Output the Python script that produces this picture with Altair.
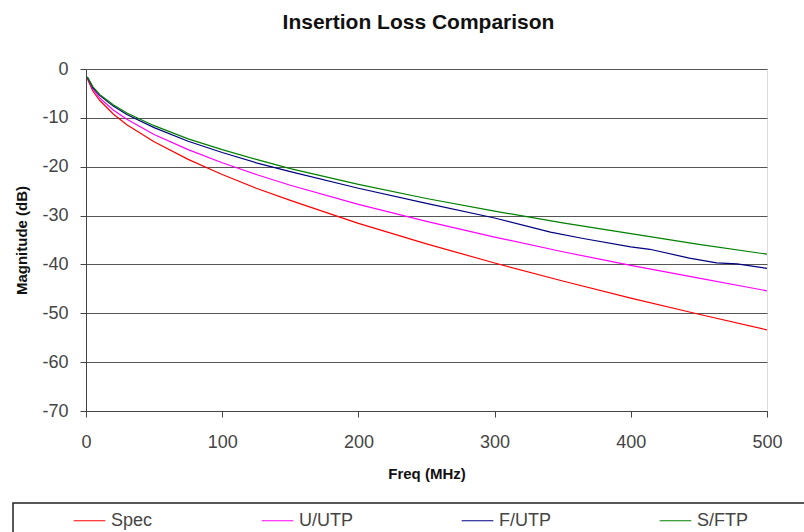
import altair as alt
import pandas as pd

# ---- data ----
spec_freq = [1, 5, 10, 20, 30, 50, 75, 100, 125, 150, 200, 250, 300, 350, 400, 450, 500]
spec_db = [-2.0, -4.5, -6.4, -9.2, -11.4, -14.9, -18.5, -21.6, -24.4, -26.9, -31.6,
           -35.8, -39.7, -43.4, -46.9, -50.2, -53.4]

utp_freq = [1, 5, 10, 20, 30, 50, 75, 100, 125, 150, 200, 250, 300, 350, 400, 450, 500]
utp_db = [-1.8, -4.1, -5.9, -8.4, -10.3, -13.4, -16.5, -19.2, -21.6, -23.8, -27.7,
          -31.2, -34.4, -37.4, -40.2, -42.8, -45.4]

futp_freq = [1, 5, 10, 20, 30, 50, 75, 100, 125, 150, 200, 250, 300, 341, 365, 400,
             414, 443, 463, 478, 500]
futp_db = [-1.7, -3.8, -5.4, -7.6, -9.3, -12.0, -14.8, -17.1, -19.2, -21.0, -24.4,
           -27.5, -30.5, -33.4, -34.7, -36.4, -36.9, -38.7, -39.7, -39.9, -40.8]

sftp_freq = [1, 5, 10, 20, 30, 50, 75, 100, 125, 150, 200, 250, 300, 350, 400, 450, 500]
sftp_db = [-1.6, -3.6, -5.2, -7.3, -9.0, -11.6, -14.3, -16.5, -18.5, -20.4, -23.6,
           -26.5, -29.1, -31.5, -33.7, -35.9, -37.9]

series_names = ["Spec", "U/UTP", "F/UTP", "S/FTP"]
series_colors = ["#FF0000", "#FF00FF", "#000080", "#008000"]
x_ticks = [0, 100, 200, 300, 400, 500]
y_ticks = [-70, -60, -50, -40, -30, -20, -10, 0]

rows = []
for name, fr, db in zip(series_names,
                        [spec_freq, utp_freq, futp_freq, sftp_freq],
                        [spec_db, utp_db, futp_db, sftp_db]):
    for i, (f, d) in enumerate(zip(fr, db)):
        rows.append({"series": name, "freq": f, "db": d, "order": i})
df = pd.DataFrame(rows)

FONT = "Liberation Sans"

lines = alt.Chart(df).mark_line(strokeWidth=1.2, clip=True).encode(
    x=alt.X("freq:Q", scale=alt.Scale(domain=[0, 500], nice=False),
            axis=alt.Axis(values=x_ticks, title="Freq (MHz)", grid=False,
                          tickSize=6, tickColor="#444", domainColor="#444",
                          labelFontSize=18, labelColor="#444", labelPadding=16,
                          labelFont=FONT, titleFont=FONT, titleFontSize=15,
                          titleFontWeight="bold", titleColor="#111",
                          titlePadding=15, labelFlush=False)),
    y=alt.Y("db:Q", scale=alt.Scale(domain=[-70, 0], nice=False),
            axis=alt.Axis(values=y_ticks, title="Magnitude (dB)", grid=True,
                          gridColor="#555", gridWidth=1.2, tickSize=6,
                          tickColor="#444", domainColor="#444",
                          labelExpr="toString(datum.value)",
                          labelFontSize=18, labelColor="#444", labelPadding=12,
                          labelFont=FONT, titleFont=FONT, titleFontSize=15,
                          titleFontWeight="bold", titleColor="#111",
                          titlePadding=12)),
    color=alt.Color("series:N",
                    scale=alt.Scale(domain=series_names, range=series_colors),
                    sort=series_names,
                    legend=alt.Legend(orient="none", legendX=-13, legendY=435,
                                      direction="horizontal", columns=4,
                                      title=None, symbolType="stroke",
                                      symbolSize=1000, symbolStrokeWidth=1.2,
                                      labelFontSize=18, labelColor="#444",
                                      labelFont=FONT, labelOffset=5,
                                      columnPadding=106, gridAlign="each")),
    order="order:Q",
)

box_df = pd.DataFrame({"k": [0]})
box = alt.Chart(box_df).mark_rect(fill="white", stroke="#222", strokeWidth=1.5).encode(
    x=alt.value(-73), x2=alt.value(730), y=alt.value(434), y2=alt.value(475)
)

chart = alt.layer(box, lines).properties(
    width=681, height=342,
    title=alt.TitleParams("Insertion Loss Comparison", font=FONT, fontSize=21,
                          fontWeight="bold", color="#111", anchor="middle",
                          offset=27, dx=-8),
    autosize="none",
    padding={"left": 86, "top": 69, "right": 37, "bottom": 121},
).configure_view(stroke="#888", strokeWidth=1).configure(background="white")

chart.save("out.html", embed_options={"renderer": "svg", "actions": False})
